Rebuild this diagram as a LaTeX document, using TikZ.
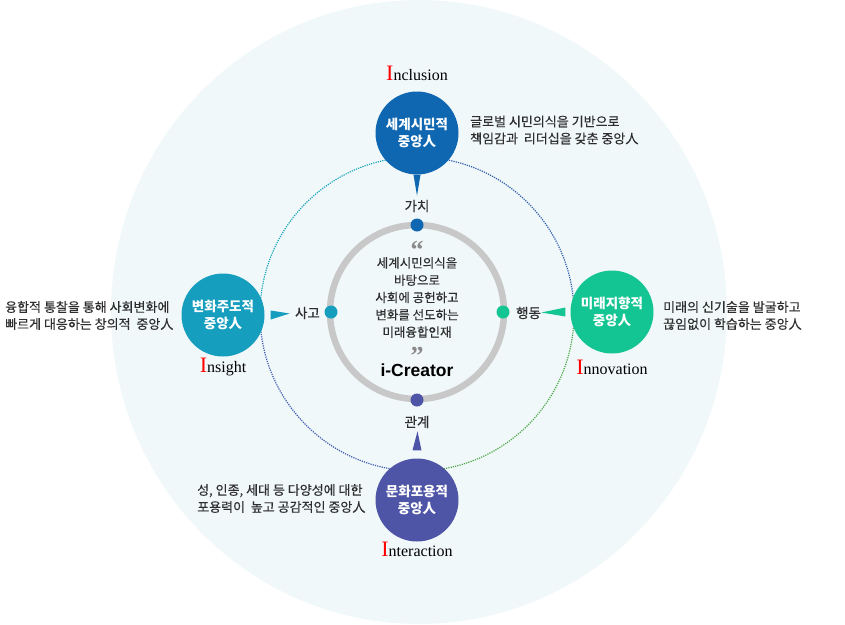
\documentclass[tikz,border=0pt]{standalone}
\usepackage{fontspec}
\setmainfont{Noto Sans CJK KR}
\newfontfamily\krmed{Noto Sans CJK KR}[FakeBold=0.35]
\newfontfamily\serifI{Liberation Serif}
\newfontfamily\arialB{Liberation Sans}
\usetikzlibrary{calc}
\definecolor{bgc}{HTML}{F1F8FA}
\definecolor{ringgray}{HTML}{C8C8C8}
\definecolor{cblue}{HTML}{0E67B0}
\definecolor{cteal}{HTML}{169EBF}
\definecolor{cgreen}{HTML}{13C592}
\definecolor{cindigo}{HTML}{4F55A6}
\definecolor{txt}{HTML}{2E2E2E}
\definecolor{quotegray}{HTML}{8A8A8A}
\definecolor{dotteal}{HTML}{1AA6B8}
\definecolor{dotblue}{HTML}{2F5DAA}
\definecolor{dotgreen}{HTML}{4DA84A}
\definecolor{dotindigo}{HTML}{3F5DB0}
\newcommand\MyILabel[1]{{\serifI\fontsize{22}{22}\selectfont\textcolor{red}{I}}{\serifI\fontsize{16}{16}\selectfont #1}}
\newcommand\MyQuote[1]{\raisebox{-11pt}[7pt][0pt]{#1}}
\tikzset{
  bignode/.style={circle, minimum size=83pt, inner sep=0pt, text=white, align=center,
    font=\bfseries\fontsize{13.5}{17}\selectfont},
  ringdot/.style={circle, minimum size=13pt, inner sep=0pt},
  desc/.style={anchor=west, align=left, inner sep=0pt, text=txt,
    font=\krmed\fontsize{13}{17}\selectfont},
  dotlabel/.style={inner sep=0pt, text=txt, font=\krmed\fontsize{13.5}{14}\selectfont},
  ilab/.style={inner sep=0pt, text=black},
  orbit/.style={line width=1.2pt, dash pattern=on 1.2pt off 1.1pt},
  quote/.style={inner sep=0pt, text=quotegray,
    font=\serifI\bfseries\fontsize{26}{26}\selectfont},
}
\begin{document}
\begin{tikzpicture}[x=1pt,y=-1pt]
\useasboundingbox (0,0) rectangle (845,624);
% background disc
\fill[bgc] (419,312) ellipse [x radius=308, y radius=312];
% orbit
\coordinate (C) at (417,314);
\draw[orbit, dotteal]   ([shift={(C)}]180:157) arc[start angle=180, end angle=270, radius=157];
\draw[orbit, dotblue]   ([shift={(C)}]270:157) arc[start angle=270, end angle=360, radius=157];
\draw[orbit, dotgreen]  ([shift={(C)}]0:157)   arc[start angle=0,   end angle=90,  radius=157];
\draw[orbit, dotindigo] ([shift={(C)}]90:157)  arc[start angle=90,  end angle=180, radius=157];
% inner ring
\draw[ringgray, line width=6.5pt] (417,312) circle[radius=87];
% ring dots
\node[ringdot, fill=cblue]   (dtop)   at (417,225) {};
\node[ringdot, fill=cteal]   (dleft)  at (331,312) {};
\node[ringdot, fill=cgreen]  (dright) at (503,312) {};
\node[ringdot, fill=cindigo] (dbot)   at (417,400) {};
% dot labels
\node[dotlabel] (ltop)   at (417,206) {가치};
\node[dotlabel] (lleft)  at (307.5,313) {사고};
\node[dotlabel] (lright) at (528.5,313) {행동};
\node[dotlabel] (lbot)   at (417,422) {관계};
% big nodes
\node[bignode, fill=cblue]   (ntop)   at (417,133) {세계시민적\\중앙人};
\node[bignode, fill=cteal]   (nleft)  at (223,315) {변화주도적\\중앙人};
\node[bignode, fill=cgreen]  (nright) at (612,312) {미래지향적\\중앙人};
\node[bignode, fill=cindigo] (nbot)   at (417,500) {문화포용적\\중앙人};
% pointers
\fill[cblue]   ($(ntop.south)+(-3.5,0)$) -- ($(ntop.south)+(3.5,0)$) -- ($(ntop.south)+(0,21)$) -- cycle;
\fill[cteal]   ($(nleft.east)+(6,-4.5)$) -- ($(nleft.east)+(6,4.5)$) -- ($(nleft.east)+(25,-1.5)$) -- cycle;
\fill[cgreen]  ($(nright.west)+(-5,-4.5)$) -- ($(nright.west)+(-5,4.5)$) -- ($(nright.west)+(-29,0.5)$) -- cycle;
\fill[cindigo] ($(nbot.north)+(-4.5,-8)$) -- ($(nbot.north)+(4.5,-8)$) -- ($(nbot.north)+(0.5,-27)$) -- cycle;
% I-labels
\node[ilab] (itop)   at (417,73)  {\MyILabel{nclusion}};
\node[ilab] (ileft)  at (223,367) {\MyILabel{nsight}};
\node[ilab] (iright) at (612,367) {\MyILabel{nnovation}};
\node[ilab] (ibot)   at (417,549) {\MyILabel{nteraction}};
% descriptions
\node[desc] (dscT) at (470,130)   {글로벌 시민의식을 기반으로\\책임감과\ \ 리더십을 갖춘 중앙人};
\node[desc] (dscL) at (5,315.5)   {융합적 통찰을 통해 사회변화에\\빠르게 대응하는 창의적\ \ 중앙人};
\node[desc] (dscR) at (663,315.5) {미래의 신기술을 발굴하고\\끊임없이 학습하는 중앙人};
\node[desc] (dscB) at (197,498.5) {성, 인종, 세대 등 다양성에 대한\\포용력이\ \ 높고 공감적인 중앙人};
% center text
\node[quote] (q1) at (417,244) {\MyQuote{“}};
\node[inner sep=0pt, text=txt, align=center, font=\krmed\fontsize{12.5}{17.3}\selectfont] (ctext) at (417,297.5)
  {세계시민의식을\\바탕으로\\사회에 공헌하고\\변화를 선도하는\\미래융합인재};
\node[quote] (q2) at (417,350) {\MyQuote{”}};
\node[inner sep=0pt, text=black, font=\arialB\bfseries\fontsize{17.5}{18}\selectfont] (icr) at (417,370.5) {i-Creator};
\end{tikzpicture}
\end{document}
